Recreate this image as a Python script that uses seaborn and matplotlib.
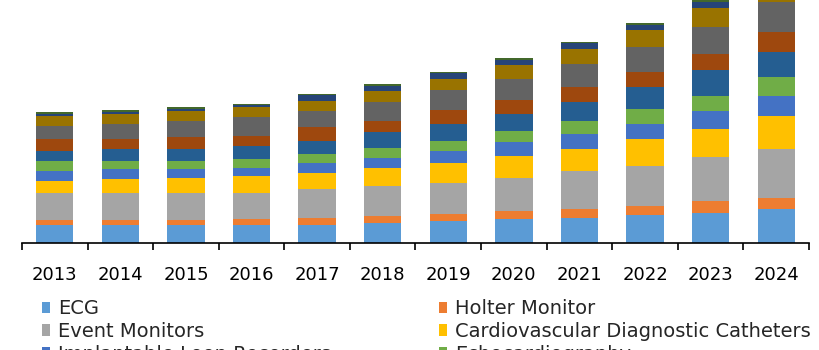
import numpy as np
import pandas as pd
import matplotlib
matplotlib.use("Agg")
import matplotlib.pyplot as plt
import seaborn as sns

# ---------- data (relative units) ----------
years = ['2013', '2014', '2015', '2016', '2017', '2018',
         '2019', '2020', '2021', '2022', '2023', '2024']

ecg = [18.3, 18.3, 18.3, 18.3, 18.3, 20.0, 22.0, 23.7, 25.3, 28.3, 30.0, 33.7]
holter = [5.0, 5.0, 5.0, 5.3, 7.0, 7.0, 6.7, 8.3, 8.3, 8.7, 11.7, 11.7]
event_monitors = [26.7, 26.7, 26.7, 26.3, 28.3, 30.0, 31.7, 33.3, 38.3, 40.3, 44.0, 48.7]
catheters = [12.0, 13.7, 15.3, 17.0, 16.7, 18.3, 20.0, 22.0, 22.0, 26.7, 28.3, 33.3]
loop_recorders = [10.0, 10.0, 8.3, 8.3, 10.0, 10.0, 12.0, 13.3, 15.0, 15.0, 18.3, 20.0]
echo = [10.0, 8.3, 8.3, 8.7, 8.7, 10.0, 10.0, 11.7, 13.3, 15.0, 15.0, 18.7]
stress = [10.0, 11.7, 11.7, 13.3, 13.3, 15.3, 17.0, 17.0, 18.7, 21.7, 25.3, 25.0]
ct = [12.0, 10.3, 12.0, 10.0, 13.3, 11.5, 13.3, 13.3, 15.0, 15.3, 16.7, 20.0]
mri = [13.3, 15.0, 16.7, 18.7, 16.7, 18.7, 20.0, 21.7, 23.5, 25.0, 26.7, 30.3]
nuclear = [10.0, 10.0, 10.0, 10.0, 10.0, 11.5, 11.7, 13.7, 15.0, 17.0, 18.7, 20.0]
biomarkers = [2.0, 2.3, 2.0, 1.7, 5.3, 5.2, 5.3, 5.0, 5.3, 5.0, 6.7, 7.0]
others = [1.4, 1.4, 1.7, 1.7, 1.7, 1.7, 1.3, 1.7, 1.7, 1.7, 1.7, 2.0]

series_names = ['ECG', 'Holter Monitor', 'Event Monitors',
                'Cardiovascular Diagnostic Catheters',
                'Implantable Loop Recorders', 'Echocardiography',
                'Stress Testing', 'CT Scan', 'Cardiac MRI',
                'Nuclear Imaging', 'Cardiac Biomarkers', 'Others']
series_vals = [ecg, holter, event_monitors, catheters, loop_recorders, echo,
               stress, ct, mri, nuclear, biomarkers, others]
colors = ['#5B9BD5', '#ED7D31', '#A5A5A5', '#FFC000', '#4472C4', '#70AD47',
          '#255E91', '#9E480E', '#636363', '#997300', '#264478', '#43682B']

df = pd.DataFrame(dict(zip(series_names, series_vals)), index=years)
cum = df.cumsum(axis=1)

sns.set_theme(style="white")
plt.rcParams['font.family'] = ['DejaVu Sans']

fig = plt.figure(figsize=(8.2, 3.5), dpi=100)
ax = fig.add_axes([22 / 820, 1 - 243 / 350, 787 / 820, 243 / 350])

# stacked bars: draw the cumulative totals from the top layer down
for name, col in reversed(list(zip(series_names, colors))):
    sns.barplot(x=years, y=cum[name].values, color=col, saturation=1,
                width=0.57, linewidth=0, label=name, ax=ax)

if ax.get_legend() is not None:
    ax.get_legend().remove()

ax.set_xlim(-0.5, len(years) - 0.5)
ax.set_ylim(0, 243)
ax.set_xlabel('')
ax.set_ylabel('')
ax.set_yticks([])
for s in ['left', 'top', 'right']:
    ax.spines[s].set_visible(False)
ax.spines['bottom'].set_color('black')
ax.spines['bottom'].set_linewidth(1.2)

ax.set_xticks(range(len(years)))
ax.set_xticklabels(years, fontsize=13, color='black')
ax.set_xticks(np.arange(-0.5, len(years), 1.0), minor=True)
ax.tick_params(axis='x', which='major', length=0, pad=16.5)
ax.tick_params(axis='x', which='minor', length=5, width=1.2,
               color='black', direction='out', bottom=True)

# legend, filled row by row in two columns
handles, labels = ax.get_legend_handles_labels()
lookup = dict(zip(labels, handles))
order = series_names[0::2] + series_names[1::2]
fig.legend([lookup[n] for n in order], order, ncol=2,
           loc='upper left', bbox_to_anchor=(42 / 820, 1 - 299 / 350),
           frameon=False, fontsize=14, borderpad=0, borderaxespad=0,
           handlelength=0.42, handleheight=0.5, handletextpad=0.4,
           labelspacing=0.2, columnspacing=5.55)

fig.savefig('out.png', dpi=100)
